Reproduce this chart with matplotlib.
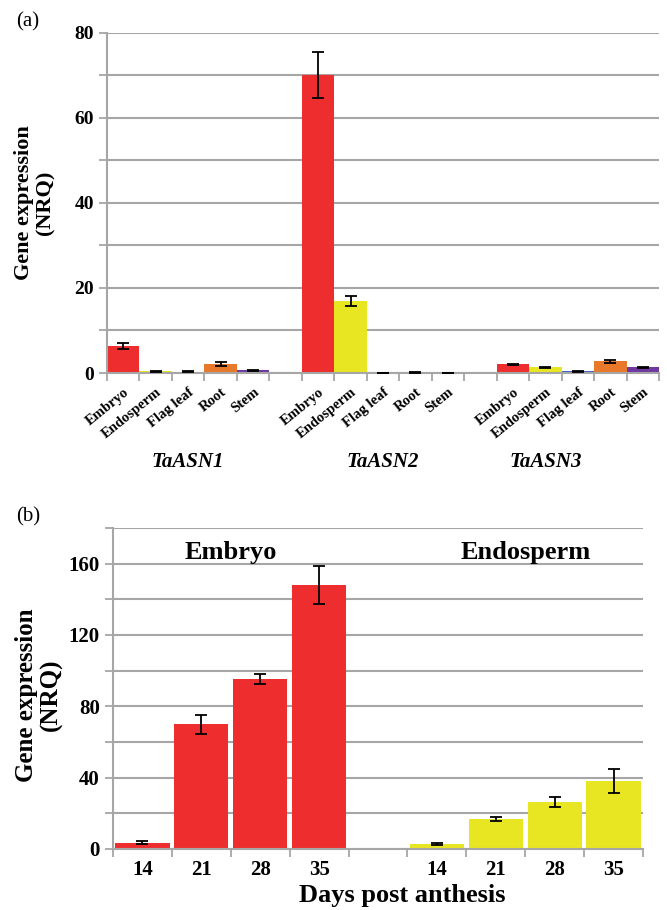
import numpy as np
import matplotlib
matplotlib.use('Agg')
import matplotlib.pyplot as plt
from matplotlib.ticker import FixedLocator, NullFormatter

plt.rcParams['font.family'] = ['Liberation Serif', 'DejaVu Serif']

# panel (a): tissue expression of three genes
genes = ['TaASN1', 'TaASN2', 'TaASN3']
tissues = ['Embryo', 'Endosperm', 'Flag leaf', 'Root', 'Stem']
tissue_colors = ['#EE2E2E', '#E8E622', '#3F64C8', '#E8782A', '#7039A0']
asn1_val = [6.3, 0.45, 0.3, 2.1, 0.6]
asn1_err = [0.7, 0.1, 0.08, 0.45, 0.12]
asn2_val = [70.0, 16.9, 0.05, 0.15, 0.05]
asn2_err = [5.4, 1.2, 0.0, 0.1, 0.0]
asn3_val = [2.0, 1.35, 0.4, 2.8, 1.35]
asn3_err = [0.2, 0.15, 0.08, 0.35, 0.15]
gene_label_x = [2, 8, 13]

# panel (b): time course in embryo and endosperm
days = ['14', '21', '28', '35']
embryo_val = [3.5, 70.0, 95.5, 148.0]
embryo_err = [0.8, 5.4, 2.9, 10.5]
endo_val = [2.6, 16.8, 26.3, 38.0]
endo_err = [0.5, 1.3, 2.9, 6.7]

W, H = 667, 910
grid_col = '#A6A6A6'


def px_axes(fig, left, right, top, bottom):
    return fig.add_axes([left / W, 1 - bottom / H, (right - left) / W, (bottom - top) / H])


def style_axes(ax):
    for s in ['top', 'right']:
        ax.spines[s].set_visible(False)
    for s in ['left', 'bottom']:
        ax.spines[s].set_color(grid_col)
        ax.spines[s].set_linewidth(1.5)
    ax.yaxis.grid(True, color=grid_col, lw=1.5)
    ax.set_axisbelow(True)
    ax.tick_params(axis='both', which='major', color=grid_col, width=1.3, length=6)
    ax.tick_params(axis='x', which='minor', length=0)


fig = plt.figure(figsize=(W / 100, H / 100), dpi=100)

# ---------- (a)
ax1 = px_axes(fig, 107, 659, 32.7, 373)
all_val = [asn1_val, asn2_val, asn3_val]
all_err = [asn1_err, asn2_err, asn3_err]
centers = []
for g in range(3):
    x = np.arange(5) + g * 6
    centers.extend(x)
    ax1.bar(x, all_val[g], width=1.0, color=tissue_colors, zorder=2)
    ax1.errorbar(x, all_val[g], yerr=all_err[g], fmt='none', ecolor='black',
                 elinewidth=1.3, capsize=4, capthick=1.3, zorder=3)
ax1.set_xlim(-0.5, 16.5)
ax1.set_ylim(0, 80)
style_axes(ax1)
yt1 = np.arange(0, 81, 10)
ax1.set_yticks(yt1)
ax1.set_yticklabels(['%d' % v if v % 20 == 0 else '' for v in yt1],
                    fontsize=14, fontweight='bold')
ax1.xaxis.set_major_locator(FixedLocator(np.arange(-0.5, 17, 1)))
ax1.xaxis.set_major_formatter(NullFormatter())
ax1.set_xticks(centers, minor=True)
ax1.set_xticklabels(tissues * 3, minor=True, rotation=39, ha='right', va='top',
                    rotation_mode='anchor', fontsize=10.5, fontweight='bold')
ax1.tick_params(axis='x', which='minor', pad=9)
gene_y = -(462 - 373) / (373 - 32.7)
for i, g in enumerate(genes):
    ax1.text(gene_label_x[i], gene_y, g, transform=ax1.get_xaxis_transform(),
             fontsize=15, fontweight='bold', style='italic', ha='center', va='center')
fig.text(35 / W, 1 - 203 / H, 'Gene expression\n(NRQ)', rotation=90, ha='center', va='center',
         fontsize=16, fontweight='bold', linespacing=1.1, multialignment='center')
fig.text(28 / W, 1 - 22 / H, '(a)', ha='center', va='center', fontsize=15)

# ---------- (b)
ax2 = px_axes(fig, 113, 643, 528, 849)
xe = np.arange(4)
xn = np.arange(4) + 5
ax2.bar(xe, embryo_val, width=0.92, color='#EE2E2E', zorder=2)
ax2.bar(xn, endo_val, width=0.92, color='#E8E622', zorder=2)
ax2.errorbar(xe, embryo_val, yerr=embryo_err, fmt='none', ecolor='black',
             elinewidth=1.3, capsize=4, capthick=1.3, zorder=3)
ax2.errorbar(xn, endo_val, yerr=endo_err, fmt='none', ecolor='black',
             elinewidth=1.3, capsize=4, capthick=1.3, zorder=3)
ax2.set_xlim(-0.5, 8.5)
ax2.set_ylim(0, 180)
style_axes(ax2)
yt2 = np.arange(0, 181, 20)
ax2.set_yticks(yt2)
ax2.set_yticklabels(['%d' % v if v % 40 == 0 else '' for v in yt2],
                    fontsize=15, fontweight='bold')
ax2.xaxis.set_major_locator(FixedLocator(np.arange(-0.5, 9, 1)))
ax2.xaxis.set_major_formatter(NullFormatter())
ax2.set_xticks(np.concatenate([xe, xn]), minor=True)
ax2.set_xticklabels(days * 2, minor=True, fontsize=15, fontweight='bold')
ax2.tick_params(axis='x', which='minor', pad=8)
ax2.text(xe.mean(), 166.5, 'Embryo', ha='center', va='center', fontsize=19, fontweight='bold')
ax2.text(xn.mean(), 166.5, 'Endosperm', ha='center', va='center', fontsize=19, fontweight='bold')
ax2.set_xlabel('Days post anthesis', fontsize=19, fontweight='bold')
ax2.xaxis.set_label_coords((402 - 113) / 530, -(884 - 849) / 321)
fig.text(39 / W, 1 - 695 / H, 'Gene expression\n(NRQ)', rotation=90, ha='center', va='center',
         fontsize=18, fontweight='bold', linespacing=1.1, multialignment='center')
fig.text(28 / W, 1 - 517 / H, '(b)', ha='center', va='center', fontsize=15)

fig.savefig('out.png', dpi=100)
